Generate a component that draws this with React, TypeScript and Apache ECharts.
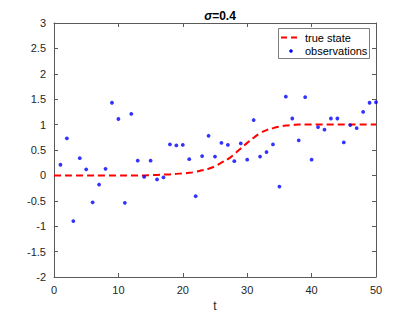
import React, { useEffect, useRef } from "react";
import * as echarts from "echarts";

const tValues = [1,2,3,4,5,6,7,8,9,10,11,12,13,14,15,16,17,18,19,20,21,22,23,24,25,26,27,28,29,30,31,32,33,34,35,36,37,38,39,40,41,42,43,44,45,46,47,48,49,50];
const observations = [0.21,0.73,-0.9,0.34,0.12,-0.53,-0.18,0.13,1.43,1.11,-0.54,1.21,0.29,-0.03,0.29,-0.08,-0.04,0.61,0.59,0.6,0.32,-0.41,0.38,0.78,0.37,0.64,0.6,0.28,0.63,0.31,1.09,0.37,0.46,0.61,-0.22,1.55,1.12,0.69,1.54,0.31,0.95,0.9,1.12,1.12,0.65,0.99,0.93,1.25,1.43,1.44];
const stateT = [0,1,2,3,4,5,6,7,8,9,10,11,12,13,14,15,16,17,18,19,20,21,22,23,24,25,26,27,28,29,30,31,32,33,34,35,36,37,38,39,40,41,42,43,44,45,46,47,48,49,50];
const trueState = [0,0,0,0,0,0,0,0,0,0,0,0,0,0,0,0.005,0.01,0.015,0.02,0.03,0.04,0.05,0.07,0.1,0.13,0.18,0.25,0.32,0.42,0.53,0.64,0.74,0.83,0.89,0.93,0.96,0.98,0.99,1,1,1,1,1,1,1,1,1,1,1,1,1];
const legendLabels = ["true state", "observations"];

export default function App() {
  const ref = useRef<HTMLDivElement>(null);
  useEffect(() => {
    if (!ref.current) return;
    const chart = echarts.init(ref.current, undefined, { renderer: "svg" });
    const axisColor = "#262626";
    const font = "'Liberation Sans', Arial, Helvetica, sans-serif";
    const xBase = {
      type: "value" as const,
      min: 0,
      max: 50,
      interval: 10,
      splitLine: { show: false },
      axisLine: { show: true, onZero: false, lineStyle: { color: "#5a5a5a", width: 1 } },
      axisTick: { show: true, inside: true, length: 4, lineStyle: { color: "#5a5a5a" } },
    };
    const yBase = {
      type: "value" as const,
      min: -2,
      max: 3,
      interval: 0.5,
      splitLine: { show: false },
      axisLine: { show: true, onZero: false, lineStyle: { color: "#5a5a5a", width: 1 } },
      axisTick: { show: true, inside: true, length: 4, lineStyle: { color: "#5a5a5a" } },
    };
    chart.setOption({
      animation: false,
      backgroundColor: "#ffffff",
      textStyle: { fontFamily: font },
      title: {
        text: "{i|σ}{b|=0.4}",
        left: 215,
        top: 5,
        textAlign: "center",
        textStyle: {
          rich: {
            i: { fontStyle: "italic", fontWeight: "bold", fontSize: 12, color: "#000", fontFamily: font },
            b: { fontWeight: "bold", fontSize: 12, color: "#000", fontFamily: font },
          },
        },
      },
      grid: { left: 54, right: 39, top: 23, bottom: 35, outerBoundsMode: "none", containLabel: false },
      xAxis: [
        {
          ...xBase,
          position: "bottom",
          name: "t",
          nameLocation: "middle",
          nameGap: 21,
          nameTextStyle: { fontSize: 12, color: axisColor, fontFamily: font },
          axisLabel: { fontSize: 11, color: axisColor, margin: 7, fontFamily: font },
        },
        { ...xBase, position: "top", axisLabel: { show: false } },
      ],
      yAxis: [
        {
          ...yBase,
          position: "left",
          axisLabel: { fontSize: 11, color: axisColor, margin: 8, fontFamily: font },
        },
        { ...yBase, position: "right", axisLabel: { show: false } },
      ],
      series: [
        {
          name: legendLabels[0],
          type: "line",
          data: stateT.map((t, i) => [t, trueState[i]]),
          showSymbol: false,
          symbol: "none",
          smooth: true,
          lineStyle: { color: "#ff0000", width: 2, type: [7, 4] },
          z: 2,
        },
        {
          name: legendLabels[1],
          type: "scatter",
          data: tValues.map((t, i) => [t, observations[i]]),
          symbol: "circle",
          symbolSize: 3.8,
          itemStyle: { color: "#0000ff" },
          z: 3,
        },
      ],
      graphic: [
        {
          type: "rect",
          shape: { x: 278.5, y: 28.5, width: 91, height: 30 },
          style: { fill: "#ffffff", stroke: "#262626", lineWidth: 0.6 },
          z: 10,
        },
        {
          type: "line",
          shape: { x1: 281, y1: 37.5, x2: 301, y2: 37.5 },
          style: { stroke: "#ff0000", lineWidth: 2, lineDash: [6, 4] },
          z: 11,
        },
        {
          type: "circle",
          shape: { cx: 291, cy: 51, r: 1.8 },
          style: { fill: "#0000ff" },
          z: 11,
        },
        {
          type: "text",
          x: 305,
          y: 37.5,
          style: { text: legendLabels[0], fontSize: 11, fill: "#000", fontFamily: font, verticalAlign: "middle" },
          z: 11,
        },
        {
          type: "text",
          x: 305,
          y: 51,
          style: { text: legendLabels[1], fontSize: 11, fill: "#000", fontFamily: font, verticalAlign: "middle" },
          z: 11,
        },
      ],
    });
    return () => chart.dispose();
  }, []);
  return <div ref={ref} style={{ width: 415, height: 312, position: "absolute", left: 0, top: 0 }} />;
}
